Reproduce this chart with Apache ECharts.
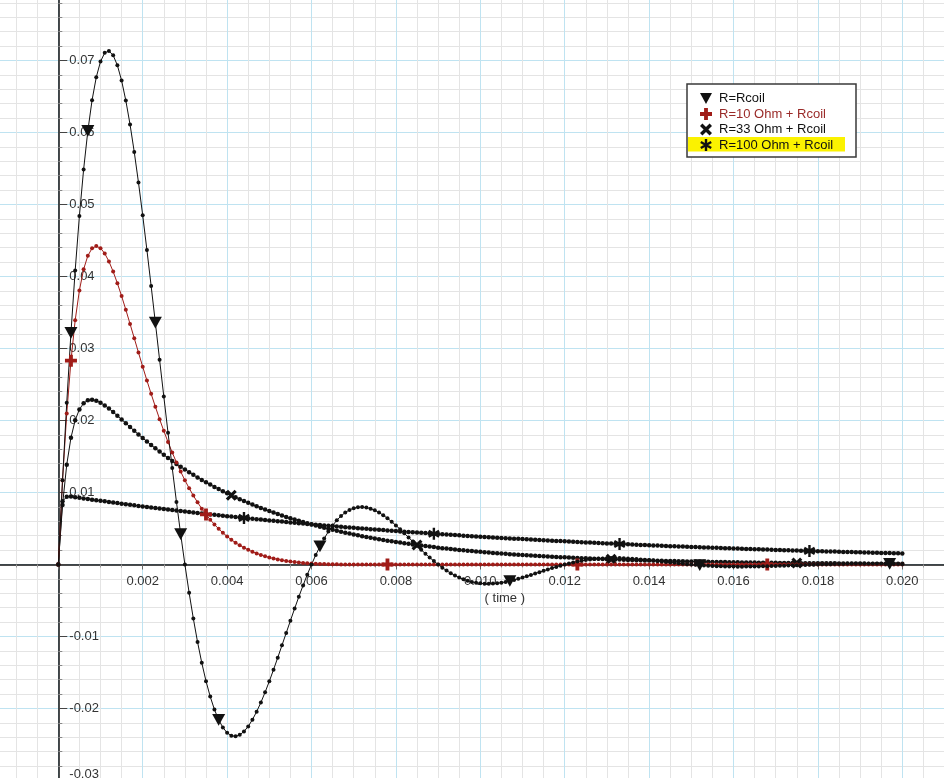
<!DOCTYPE html>
<html>
<head>
<meta charset="utf-8">
<script src="https://cdn.jsdelivr.net/npm/echarts/dist/echarts.min.js"></script>
<style>
html,body{margin:0;padding:0;background:#fff;}
#chart{width:944px;height:778px;}
</style>
</head>
<body>
<div id="chart"></div>
<script>
// sample times in milliseconds
const timeMs = [
0,0.1,0.2,0.3,0.4,0.5,0.6,0.7,0.8,0.9,
1,1.1,1.2,1.3,1.4,1.5,1.6,1.7,1.8,1.9,
2,2.1,2.2,2.3,2.4,2.5,2.6,2.7,2.8,2.9,
3,3.1,3.2,3.3,3.4,3.5,3.6,3.7,3.8,3.9,
4,4.1,4.2,4.3,4.4,4.5,4.6,4.7,4.8,4.9,
5,5.1,5.2,5.3,5.4,5.5,5.6,5.7,5.8,5.9,
6,6.1,6.2,6.3,6.4,6.5,6.6,6.7,6.8,6.9,
7,7.1,7.2,7.3,7.4,7.5,7.6,7.7,7.8,7.9,
8,8.1,8.2,8.3,8.4,8.5,8.6,8.7,8.8,8.9,
9,9.1,9.2,9.3,9.4,9.5,9.6,9.7,9.8,9.9,
10,10.1,10.2,10.3,10.4,10.5,10.6,10.7,10.8,10.9,
11,11.1,11.2,11.3,11.4,11.5,11.6,11.7,11.8,11.9,
12,12.1,12.2,12.3,12.4,12.5,12.6,12.7,12.8,12.9,
13,13.1,13.2,13.3,13.4,13.5,13.6,13.7,13.8,13.9,
14,14.1,14.2,14.3,14.4,14.5,14.6,14.7,14.8,14.9,
15,15.1,15.2,15.3,15.4,15.5,15.6,15.7,15.8,15.9,
16,16.1,16.2,16.3,16.4,16.5,16.6,16.7,16.8,16.9,
17,17.1,17.2,17.3,17.4,17.5,17.6,17.7,17.8,17.9,
18,18.1,18.2,18.3,18.4,18.5,18.6,18.7,18.8,18.9,
19,19.1,19.2,19.3,19.4,19.5,19.6,19.7,19.8,19.9,
20];

const seriesNames = ['R=Rcoil', 'R=10 Ohm + Rcoil', 'R=33 Ohm + Rcoil', 'R=100 Ohm + Rcoil'];

const rcoil = [
0,0.01171,0.02246,0.03218,0.04084,0.04841,0.05487,0.06022,0.06448,0.06768,
0.06986,0.07106,0.07132,0.07072,0.06933,0.06721,0.06444,0.06112,0.05729,0.05306,
0.04850,0.04368,0.03869,0.03358,0.02844,0.02333,0.01830,0.01340,0.00869,0.00421,
0,-0.00392,-0.00751,-0.01077,-0.01366,-0.01620,-0.01835,-0.02015,-0.02157,-0.02264,
-0.02337,-0.02377,-0.02386,-0.02366,-0.02319,-0.02249,-0.02156,-0.02044,-0.01917,-0.01775,
-0.01622,-0.01461,-0.01294,-0.01123,-0.00952,-0.00781,-0.00612,-0.00448,-0.00291,-0.00141,
0,0.00131,0.00251,0.00360,0.00457,0.00542,0.00614,0.00674,0.00722,0.00758,
0.00782,0.00796,0.00798,0.00791,0.00776,0.00752,0.00721,0.00684,0.00641,0.00594,
0.00543,0.00489,0.00433,0.00376,0.00319,0.00261,0.00205,0.00150,0.00097,0.00047,
0,-0.00044,-0.00084,-0.00121,-0.00153,-0.00181,-0.00205,-0.00226,-0.00242,-0.00253,
-0.00262,-0.00266,-0.00267,-0.00265,-0.00260,-0.00252,-0.00242,-0.00229,-0.00215,-0.00198,
-0.00182,-0.00163,-0.00145,-0.00126,-0.00106,-0.00088,-0.00069,-0.00050,-0.00033,-0.00016,
0,0.00015,0.00028,0.00040,0.00051,0.00061,0.00069,0.00076,0.00081,0.00085,
0.00087,0.00089,0.00089,0.00089,0.00087,0.00084,0.00081,0.00076,0.00071,0.00067,
0.00061,0.00054,0.00048,0.00042,0.00035,0.00029,0.00023,0.00017,0.00011,0.00005,
0,-0.00005,-0.00009,-0.00014,-0.00017,-0.00020,-0.00023,-0.00025,-0.00027,-0.00028,
-0.00029,-0.00030,-0.00030,-0.00029,-0.00029,-0.00028,-0.00027,-0.00025,-0.00024,-0.00022,
-0.00020,-0.00018,-0.00016,-0.00014,-0.00012,-0.00010,-0.00007,-0.00006,-0.00004,-0.00002,
0,0.00002,0.00003,0.00005,0.00006,0.00007,0.00008,0.00009,0.00010,0.00010,
0.00010,0.00010,0.00010,0.00010,0.00009,0.00009,0.00008,0.00008,0.00007,0.00006,
0.00005];

const r10 = [
0,0.01166,0.02098,0.02831,0.03392,0.03807,0.04100,0.04288,0.04391,0.04422,
0.04394,0.04320,0.04209,0.04068,0.03906,0.03728,0.03539,0.03342,0.03143,0.02944,
0.02747,0.02556,0.02370,0.02191,0.02019,0.01856,0.01701,0.01555,0.01418,0.01290,
0.01171,0.01060,0.00957,0.00863,0.00776,0.00696,0.00623,0.00556,0.00495,0.00440,
0.00390,0.00344,0.00303,0.00267,0.00233,0.00204,0.00177,0.00154,0.00133,0.00114,
0.00098,0.00083,0.00071,0.00059,0.00050,0.00041,0.00034,0.00027,0.00022,0.00017,
0.00013,0.00010,0.00008,0.00006,0.00004,0.00003,0.00002,0.00001,0,0,
0,0,0,0,0,0,0,0,0,0,
0,0,0,0,0,0,0,0,0,0,
0,0,0,0,0,0,0,0,0,0,
0,0,0,0,0,0,0,0,0,0,
0,0,0,0,0,0,0,0,0,0,
0,0,0,0,0,0,0,0,0,0,
0,0,0,0,0,0,0,0,0,0,
0,0,0,0,0,0,0,0,0,0,
0,0,0,0,0,0,0,0,0,0,
0,0,0,0,0,0,0,0,0,0,
0,0,0,0,0,0,0,0,0,0,
0,0,0,0,0,0,0,0,0,0,
0,0,0,0,0,0,0,0,0,0,
0];

const r33 = [
0,0.00826,0.01387,0.01761,0.02004,0.02154,0.02240,0.02281,0.02289,0.02275,
0.02248,0.02210,0.02167,0.02118,0.02067,0.02014,0.01963,0.01910,0.01858,0.01807,
0.01756,0.01709,0.01661,0.01613,0.01568,0.01523,0.01480,0.01438,0.01397,0.01357,
0.01319,0.01282,0.01245,0.01210,0.01175,0.01142,0.01110,0.01078,0.01048,0.01018,
0.00989,0.00961,0.00934,0.00907,0.00881,0.00856,0.00832,0.00808,0.00785,0.00763,
0.00742,0.00721,0.00700,0.00681,0.00661,0.00642,0.00624,0.00607,0.00589,0.00573,
0.00556,0.00540,0.00525,0.00510,0.00496,0.00481,0.00468,0.00454,0.00442,0.00429,
0.00417,0.00405,0.00394,0.00382,0.00372,0.00361,0.00351,0.00341,0.00331,0.00322,
0.00313,0.00304,0.00295,0.00287,0.00279,0.00271,0.00263,0.00256,0.00249,0.00242,
0.00234,0.00227,0.00221,0.00215,0.00209,0.00203,0.00197,0.00191,0.00186,0.00181,
0.00176,0.00171,0.00166,0.00161,0.00157,0.00152,0.00148,0.00144,0.00140,0.00136,
0.00132,0.00128,0.00125,0.00121,0.00118,0.00114,0.00111,0.00108,0.00105,0.00102,
0.00099,0.00096,0.00093,0.00091,0.00088,0.00086,0.00083,0.00081,0.00079,0.00076,
0.00074,0.00072,0.00070,0.00068,0.00066,0.00064,0.00062,0.00060,0.00059,0.00057,
0.00056,0.00054,0.00053,0.00051,0.00050,0.00048,0.00047,0.00046,0.00044,0.00043,
0.00042,0.00041,0.00040,0.00039,0.00037,0.00036,0.00035,0.00034,0.00033,0.00032,
0.00031,0.00030,0.00029,0.00028,0.00028,0.00027,0.00026,0.00025,0.00025,0.00024,
0.00023,0.00022,0.00022,0.00021,0.00021,0.00020,0.00019,0.00019,0.00018,0.00018,
0.00018,0.00017,0.00017,0.00016,0.00016,0.00015,0.00015,0.00014,0.00014,0.00014,
0.00013,0.00013,0.00012,0.00012,0.00012,0.00011,0.00011,0.00011,0.00010,0.00010,
0.00010];

const r100 = [
0,0.00880,0.00940,0.00944,0.00935,0.00926,0.00918,0.00910,0.00901,0.00893,
0.00885,0.00877,0.00869,0.00861,0.00853,0.00845,0.00837,0.00830,0.00822,0.00814,
0.00807,0.00800,0.00792,0.00785,0.00778,0.00771,0.00764,0.00757,0.00750,0.00743,
0.00736,0.00729,0.00723,0.00716,0.00709,0.00703,0.00696,0.00690,0.00684,0.00678,
0.00671,0.00665,0.00659,0.00653,0.00647,0.00641,0.00635,0.00629,0.00624,0.00618,
0.00612,0.00607,0.00601,0.00596,0.00590,0.00585,0.00579,0.00574,0.00569,0.00564,
0.00559,0.00553,0.00548,0.00543,0.00538,0.00533,0.00529,0.00524,0.00519,0.00514,
0.00509,0.00505,0.00500,0.00496,0.00491,0.00487,0.00482,0.00478,0.00473,0.00469,
0.00465,0.00460,0.00456,0.00452,0.00448,0.00444,0.00440,0.00436,0.00432,0.00428,
0.00424,0.00420,0.00416,0.00412,0.00408,0.00405,0.00401,0.00397,0.00394,0.00390,
0.00387,0.00383,0.00380,0.00376,0.00373,0.00369,0.00366,0.00362,0.00359,0.00356,
0.00353,0.00349,0.00346,0.00343,0.00340,0.00337,0.00334,0.00331,0.00328,0.00325,
0.00322,0.00319,0.00316,0.00313,0.00310,0.00307,0.00304,0.00302,0.00299,0.00296,
0.00293,0.00291,0.00288,0.00285,0.00283,0.00280,0.00278,0.00275,0.00272,0.00270,
0.00268,0.00265,0.00263,0.00260,0.00258,0.00255,0.00253,0.00251,0.00249,0.00246,
0.00244,0.00242,0.00240,0.00237,0.00235,0.00233,0.00231,0.00229,0.00227,0.00225,
0.00223,0.00221,0.00219,0.00217,0.00215,0.00213,0.00211,0.00209,0.00207,0.00205,
0.00203,0.00201,0.00199,0.00197,0.00196,0.00194,0.00192,0.00190,0.00189,0.00187,
0.00185,0.00184,0.00182,0.00180,0.00179,0.00177,0.00175,0.00174,0.00172,0.00170,
0.00169,0.00167,0.00166,0.00164,0.00163,0.00161,0.00160,0.00158,0.00157,0.00155,
0.00154];

// indices of samples that carry the big point-protector symbols
const rcoilMarks = [3, 7, 23, 29, 38, 62, 107, 152, 197];
const r10Marks = [3, 35, 78, 123, 168];
const r33Marks = [41, 85, 131, 175];
const r100Marks = [44, 89, 133, 178];

const ICON_TRI = 'path://M0,0L10,0L5,9Z';
const ICON_PLUS = 'path://M3.4,0H6.6V3.4H10V6.6H6.6V10H3.4V6.6H0V3.4H3.4Z';
const ICON_X = 'path://M0,2L2,0L5,3L8,0L10,2L7,5L10,8L8,10L5,7L2,10L0,8L3,5Z';
const ICON_AST = 'path://M4,0H6V10H4Z M1.17,1.63L9.83,6.63L8.83,8.37L0.17,3.37Z M8.83,1.63L9.83,3.37L1.17,8.37L0.17,6.63Z';

const FONT = 'Liberation Sans, Arial, Helvetica, sans-serif';

function build(values, marks, sym, size) {
  return timeMs.map(function (ms, i) {
    const p = [ms / 1000, values[i]];
    if (marks.indexOf(i) >= 0) {
      return { value: p, symbol: sym, symbolSize: size, symbolKeepAspect: true };
    }
    return p;
  });
}

function lineSeries(name, values, marks, sym, size, color, dot) {
  return {
    name: name,
    type: 'line',
    data: build(values, marks, sym, size),
    symbol: 'circle',
    symbolSize: dot,
    showSymbol: true,
    lineStyle: { color: color, width: 1 },
    itemStyle: { color: color, borderWidth: 0 },
    emphasis: { disabled: true },
    animation: false,
    clip: true
  };
}

const chart = echarts.init(document.getElementById('chart'), null, { renderer: 'canvas' });

// grid spans beyond the canvas; the axes are shifted onto the zero lines with offsets
chart.setOption({
  backgroundColor: '#ffffff',
  animation: false,
  grid: { left: -26.1, right: -42.7, top: -11.5, bottom: -2.5, containLabel: false, outerBoundsMode: 'none' },
  xAxis: {
    type: 'value',
    min: -0.002, max: 0.022, interval: 0.002,
    position: 'bottom',
    offset: -216,
    name: '( time )',
    nameLocation: 'middle',
    nameGap: 25,
    nameTextStyle: { color: '#333', fontSize: 13, fontFamily: FONT, padding: [0, 0, 0, 49] },
    axisLine: { show: true, onZero: false, lineStyle: { color: '#111', width: 1.5 } },
    axisTick: { show: true, length: 5, lineStyle: { color: '#666' } },
    minorTick: { show: true, splitNumber: 4, length: 3, lineStyle: { color: '#999' } },
    axisLabel: {
      color: '#333', fontSize: 13, fontFamily: FONT, margin: 10,
      formatter: function (v) { return (v <= 1e-9 || v > 0.0205) ? '' : v.toFixed(3); }
    },
    splitLine: { show: true, lineStyle: { color: '#bfe3f1', width: 1 } },
    minorSplitLine: { show: true, lineStyle: { color: '#e4e4e4', width: 1 } }
  },
  yAxis: {
    type: 'value',
    min: -0.03, max: 0.08, interval: 0.01,
    position: 'left',
    offset: -84.4,
    axisLine: { show: true, onZero: false, lineStyle: { color: '#111', width: 1.5 } },
    axisTick: { show: true, inside: true, length: 9, lineStyle: { color: '#444' } },
    minorTick: { show: true, splitNumber: 5, length: 4, lineStyle: { color: '#888' } },
    axisLabel: {
      inside: true, color: '#333', fontSize: 13, fontFamily: FONT, margin: 11,
      showMinLabel: true, verticalAlignMinLabel: 'bottom',
      formatter: function (v) { return (Math.abs(v) < 1e-9 || v > 0.075) ? '' : v.toFixed(2); }
    },
    splitLine: { show: true, lineStyle: { color: '#bfe3f1', width: 1 } },
    minorSplitLine: { show: true, lineStyle: { color: '#e4e4e4', width: 1 } }
  },
  legend: {
    orient: 'vertical',
    left: 695, top: 87,
    itemWidth: 12, itemHeight: 12, itemGap: 2.5,
    selectedMode: false,
    z: 20,
    itemStyle: { borderWidth: 0 },
    textStyle: { fontSize: 13, fontFamily: FONT, padding: [0, 0, 0, 2] },
    data: [
      { name: seriesNames[0], icon: ICON_TRI, textStyle: { color: '#111' } },
      { name: seriesNames[1], icon: ICON_PLUS, textStyle: { color: '#9a2a28' } },
      { name: seriesNames[2], icon: ICON_X, textStyle: { color: '#111' } },
      { name: seriesNames[3], icon: ICON_AST, textStyle: { color: '#111' } }
    ]
  },
  graphic: [
    { type: 'rect', z: 10, shape: { x: 687, y: 84, width: 169, height: 73 },
      style: { fill: '#ffffff', stroke: '#3a3a3a', lineWidth: 1.5 } },
    { type: 'rect', z: 11, shape: { x: 688, y: 137, width: 157, height: 14.5 },
      style: { fill: '#fbf200' } }
  ],
  series: [
    lineSeries(seriesNames[3], r100, r100Marks, ICON_AST, 12, '#111111', 4.5),
    lineSeries(seriesNames[2], r33, r33Marks, ICON_X, 11, '#111111', 4.5),
    lineSeries(seriesNames[1], r10, r10Marks, ICON_PLUS, 12, '#a01c18', 4),
    lineSeries(seriesNames[0], rcoil, rcoilMarks, ICON_TRI, 13, '#111111', 4)
  ]
});
</script>
</body>
</html>
